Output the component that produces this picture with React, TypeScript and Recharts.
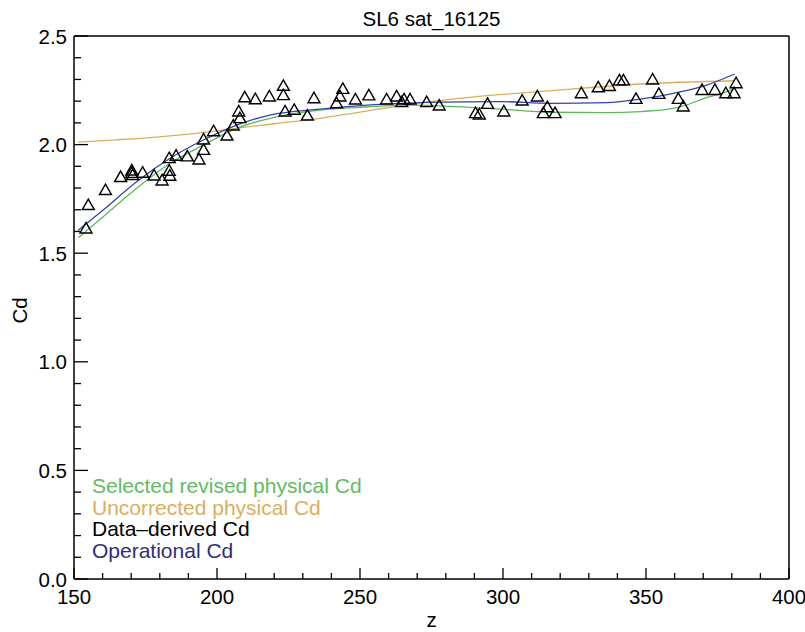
import {
  ComposedChart,
  Label,
  Legend,
  Line,
  Scatter,
  XAxis,
  YAxis,
} from 'recharts';

const FONT = '"Liberation Sans", Arial, Helvetica, sans-serif';

// data-derived Cd (triangles)
const obsZ = [
  154.2, 155, 161, 166.3, 170.2, 170.2, 170.5, 174, 178, 180.8, 183.3, 183.3, 183.5,
  185.7, 189.6, 193.7, 195.3, 195.3, 198.8, 203.5, 205.7, 208, 207.6, 209.7, 213.4,
  218.3, 223.2, 223.2, 223.8, 227, 231.6, 233.9, 241.8, 243, 244, 248.4, 253.1, 259.3,
  262.8, 264.6, 265.4, 267.5, 273.3, 277.7, 290.4, 291.7, 294.6, 300.3, 306.7, 312,
  314.1, 315.5, 318.2, 327.4, 333.3, 337.2, 340.7, 342.1, 346.5, 352.3, 354.5, 361.3,
  363, 369.6, 374.1, 377.9, 380.8, 381.5,
];
const obsCd = [
  1.616, 1.724, 1.793, 1.853, 1.883, 1.872, 1.862, 1.873, 1.86, 1.837, 1.94, 1.882, 1.859,
  1.951, 1.948, 1.934, 1.978, 2.026, 2.064, 2.044, 2.09, 2.124, 2.155, 2.22, 2.211,
  2.224, 2.273, 2.23, 2.155, 2.162, 2.136, 2.216, 2.193, 2.224, 2.259, 2.21, 2.229, 2.21,
  2.224, 2.198, 2.21, 2.21, 2.198, 2.182, 2.147, 2.141, 2.19, 2.155, 2.205, 2.224,
  2.147, 2.175, 2.147, 2.239, 2.266, 2.272, 2.298, 2.298, 2.213, 2.302, 2.236, 2.213,
  2.178, 2.254, 2.254, 2.239, 2.239, 2.285,
];

// selected revised physical Cd (green)
const revisedZ = [151.5, 160.2, 171.9, 183.6, 195.2, 206.9, 218.5, 236, 252, 267.5, 275.6, 299, 316.4, 336.3, 348, 359.6, 363, 371.2, 378.2, 381];
const revisedCd = [1.571, 1.668, 1.799, 1.914, 1.998, 2.075, 2.121, 2.159, 2.173, 2.182, 2.179, 2.163, 2.149, 2.147, 2.152, 2.167, 2.178, 2.216, 2.244, 2.259];

// uncorrected physical Cd (orange)
const uncorrZ = [151.4, 165, 180, 195, 205, 220, 236, 250, 270, 290, 316, 348, 381];
const uncorrCd = [2.011, 2.022, 2.036, 2.055, 2.072, 2.096, 2.121, 2.15, 2.19, 2.22, 2.247, 2.279, 2.294];

// operational Cd (blue)
const operZ = [151.4, 160.2, 171.9, 183.6, 195.2, 206.9, 218.5, 236, 273.3, 299, 316.4, 336.3, 348, 359.6, 371.2, 381];
const operCd = [1.604, 1.699, 1.829, 1.937, 2.021, 2.09, 2.136, 2.163, 2.194, 2.198, 2.19, 2.193, 2.209, 2.236, 2.274, 2.325];

const xMajor = [150, 200, 250, 300, 350, 400];
const yMajor = [0, 0.5, 1.0, 1.5, 2.0, 2.5];

const legendItems = [
  { label: 'Selected revised physical Cd', color: '#62bb62' },
  { label: 'Uncorrected physical Cd', color: '#dcae5c' },
  { label: 'Data\u2013derived Cd', color: '#000000' },
  { label: 'Operational Cd', color: '#2e2e80' },
];

const zip = (xs: number[], ys: number[]) => xs.map((x, i) => ({ x, y: ys[i] }));

const obsData = zip(obsZ, obsCd);
const revisedData = zip(revisedZ, revisedCd);
const uncorrData = zip(uncorrZ, uncorrCd);
const operData = zip(operZ, operCd);

// minor ticks every 10 in z and 0.1 in Cd
const xTicks: number[] = [];
for (let i = 0; i < xMajor.length - 1; i++) {
  for (let k = 0; k < 5; k++) xTicks.push(xMajor[i] + k * 10);
}
xTicks.push(xMajor[xMajor.length - 1]);
const yTicks: number[] = [];
for (let i = 0; i < yMajor.length - 1; i++) {
  for (let k = 0; k < 5; k++) yTicks.push(Math.round((yMajor[i] + k * 0.1) * 10) / 10);
}
yTicks.push(yMajor[yMajor.length - 1]);

const isMajorX = (v: number) => xMajor.includes(v);
const isMajorY = (v: number) => yMajor.some((m) => Math.abs(m - v) < 1e-6);

const XTick = (props: any) => {
  const { x, y, payload, top } = props;
  const major = isMajorX(payload.value);
  const len = major ? 11 : 6;
  return (
    <g>
      <line x1={x} y1={y} x2={x} y2={top ? y + len : y - len} stroke="#000" strokeWidth={1.3} />
      {major && !top && (
        <text x={x} y={y + 25} textAnchor="middle" fontSize={20.5} fontFamily={FONT} fill="#000">
          {payload.value}
        </text>
      )}
    </g>
  );
};

const YTick = (props: any) => {
  const { x, y, payload, right } = props;
  const major = isMajorY(payload.value);
  const len = major ? 14 : 7;
  return (
    <g>
      <line x1={x} y1={y} x2={right ? x - len : x + len} y2={y} stroke="#000" strokeWidth={1.3} />
      {major && !right && (
        <text x={x - 7} y={y + 7.5} textAnchor="end" fontSize={20.5} fontFamily={FONT} fill="#000">
          {payload.value.toFixed(1)}
        </text>
      )}
    </g>
  );
};

const Triangle = (props: any) => {
  const { cx, cy } = props;
  return (
    <polygon
      points={`${cx - 6},${cy + 5} ${cx + 6},${cy + 5} ${cx},${cy - 5.5}`}
      fill="none"
      stroke="#000"
      strokeWidth={1.4}
    />
  );
};

const LegendBox = () => (
  <div style={{ fontFamily: FONT, fontSize: 21, lineHeight: '21.7px' }}>
    {legendItems.map((item) => (
      <div key={item.label} style={{ color: item.color, whiteSpace: 'nowrap' }}>
        {item.label}
      </div>
    ))}
  </div>
);

export default function App() {
  return (
    <div style={{ position: 'fixed', left: 0, top: 0, background: '#fff' }}>
      <ComposedChart
        width={805}
        height={632}
        margin={{ top: 35, right: 15, left: 0, bottom: 0 }}
      >
        <XAxis
          dataKey="x"
          type="number"
          domain={[150, 400]}
          ticks={xTicks}
          interval={0}
          height={53}
          tickSize={0}
          tickMargin={0}
          tickLine={false}
          tick={<XTick />}
          axisLine={{ stroke: '#000', strokeWidth: 1.5 }}
          allowDataOverflow
        >
          <Label
            content={(p: any) => (
              <text
                x={p.viewBox.x + p.viewBox.width / 2}
                y={p.viewBox.y + 48}
                textAnchor="middle"
                fontSize={20.5}
                fontFamily={FONT}
                fill="#000"
              >
                z
              </text>
            )}
          />
        </XAxis>
        <XAxis
          xAxisId="top"
          orientation="top"
          type="number"
          domain={[150, 400]}
          ticks={xTicks}
          interval={0}
          height={1}
          tickSize={0}
          tickMargin={0}
          tickLine={false}
          tick={<XTick top />}
          axisLine={{ stroke: '#000', strokeWidth: 1.5 }}
        >
          <Label
            content={(p: any) => (
              <text
                x={p.viewBox.x + p.viewBox.width / 2}
                y={p.viewBox.y - 9}
                textAnchor="middle"
                fontSize={20.5}
                fontFamily={FONT}
                fill="#000"
              >
                SL6 sat_16125
              </text>
            )}
          />
        </XAxis>
        <YAxis
          dataKey="y"
          type="number"
          domain={[0, 2.5]}
          ticks={yTicks}
          interval={0}
          width={74}
          tickSize={0}
          tickMargin={0}
          tickLine={false}
          tick={<YTick />}
          axisLine={{ stroke: '#000', strokeWidth: 1.5 }}
          allowDataOverflow
        >
          <Label
            content={(p: any) => {
              const cx = p.viewBox.x + 27;
              const cy = p.viewBox.y + p.viewBox.height / 2 + 3;
              return (
                <text
                  x={cx}
                  y={cy}
                  transform={`rotate(-90 ${cx} ${cy})`}
                  textAnchor="middle"
                  fontSize={20.5}
                  fontFamily={FONT}
                  fill="#000"
                >
                  Cd
                </text>
              );
            }}
          />
        </YAxis>
        <YAxis
          yAxisId="right"
          orientation="right"
          type="number"
          domain={[0, 2.5]}
          ticks={yTicks}
          interval={0}
          width={1}
          tickSize={0}
          tickMargin={0}
          tickLine={false}
          tick={<YTick right />}
          axisLine={{ stroke: '#000', strokeWidth: 1.5 }}
        />
        <Legend
          layout="vertical"
          align="center"
          verticalAlign="middle"
          content={<LegendBox />}
          wrapperStyle={{ left: 92, top: 475, width: 'auto', height: 'auto' }}
        />
        <Line
          data={uncorrData}
          dataKey="y"
          type="monotone"
          stroke="#dcae5c"
          strokeWidth={1.3}
          dot={false}
          activeDot={false}
          isAnimationActive={false}
        />
        <Line
          data={revisedData}
          dataKey="y"
          type="monotone"
          stroke="#5cb85c"
          strokeWidth={1.3}
          dot={false}
          activeDot={false}
          isAnimationActive={false}
        />
        <Line
          data={operData}
          dataKey="y"
          type="monotone"
          stroke="#3343ad"
          strokeWidth={1.3}
          dot={false}
          activeDot={false}
          isAnimationActive={false}
        />
        <Scatter data={obsData} dataKey="y" shape={<Triangle />} isAnimationActive={false} />
      </ComposedChart>
    </div>
  );
}
